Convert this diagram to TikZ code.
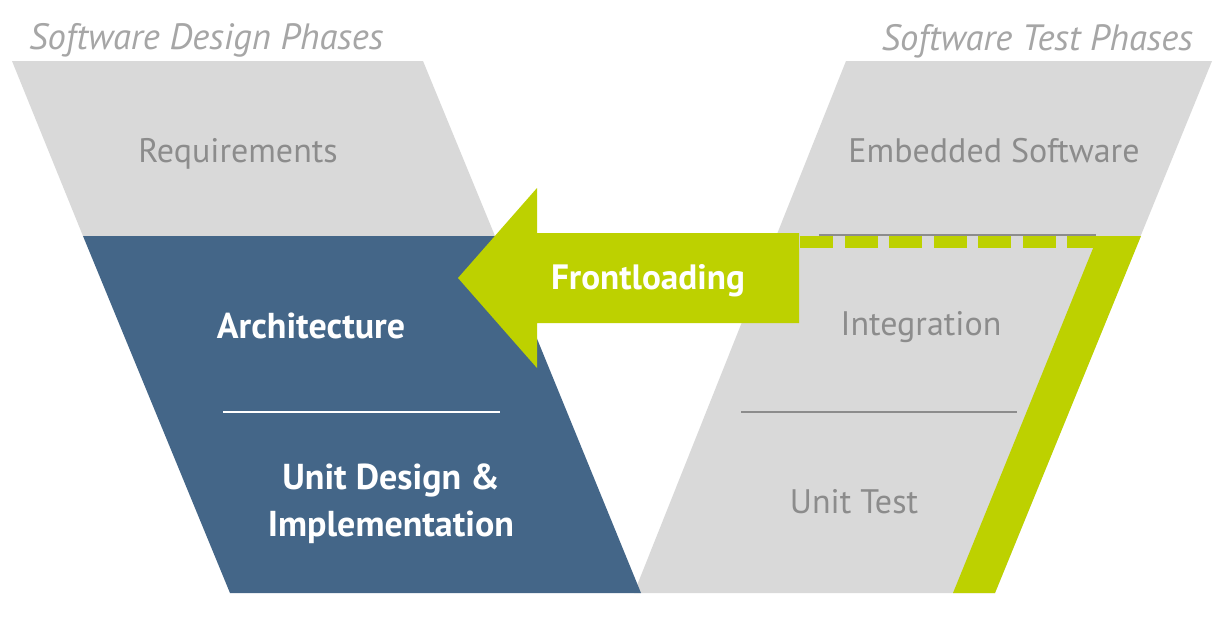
\documentclass[tikz,border=0pt]{standalone}
\usepackage{fontspec}
\setmainfont{PT Sans}
\usepackage{tikz}
\usetikzlibrary{positioning}
\definecolor{phasegray}{HTML}{D9D9D9}
\definecolor{phaseblue}{HTML}{446688}
\definecolor{frontgreen}{HTML}{BDD100}
\definecolor{labelgray}{HTML}{8C8C8C}
\definecolor{headgray}{HTML}{A6A6A6}

\begin{document}
\begin{tikzpicture}[
  x=0.5pt, y=-0.5pt,
  header/.style={font=\fontsize{18.3}{22}\selectfont\itshape, color=headgray},
  phase/.style={font=\fontsize{17}{20}\selectfont, color=labelgray, anchor=base},
  activephase/.style={font=\fontsize{18}{23.5}\selectfont\bfseries, color=white, anchor=base, align=center},
  divider/.style={line width=1pt}
]
  % Canvas
  \useasboundingbox (0,0) rectangle (1227,637);
  \fill[white] (0,0) rectangle (1227,637);

  % Design leg (left) and test leg (right)
  \fill[phasegray] (12,61) -- (423,61) -- (495,236) -- (83,236) -- cycle;
  \fill[phasegray] (846,61) -- (1212,61) -- (995,593) -- (634,593) -- cycle;
  \fill[phaseblue] (83,236) -- (495,236) -- (641,593) -- (230,593) -- cycle;

  % Green frame round the frontloaded test phases
  \fill[frontgreen] (1098,236) -- (1141,236) -- (995,593) -- (953,593) -- cycle;
  \draw[divider, labelgray] (819,235) -- (1096,235);
  \foreach \i in {0,...,6}
    \fill[frontgreen] (800+44.5*\i,236) rectangle ++(33,12);

  % Frontloading arrow
  \fill[frontgreen] (458,278) -- (537,188) -- (537,233) -- (799,233)
    -- (799,323) -- (537,323) -- (537,368) -- cycle;

  % Dividers
  \draw[divider, white] (223,412) -- (500,412);
  \draw[divider, labelgray] (741,412) -- (1017,412);

  % Labels
  \node[header, anchor=base west] (designhead) at (22,49) {Software Design Phases};
  \node[header, anchor=base east] (testhead) at (1200,50) {Software Test Phases};
  \node[phase] (req) at (238,162) {Requirements};
  \node[phase] (embedded) at (994,162) {Embedded Software};
  \node[phase] (integ) at (921,335) {Integration};
  \node[phase] (unittest) at (854,513) {Unit Test};
  \node[activephase] (arch) at (311,338) {Architecture};
  \node[activephase] (unitdesign) at (391,536) {Unit Design \&\\Implementation};
  \node[activephase, font=\fontsize{17.6}{22}\selectfont\bfseries] (front) at (648,289) {Frontloading};
\end{tikzpicture}
\end{document}
